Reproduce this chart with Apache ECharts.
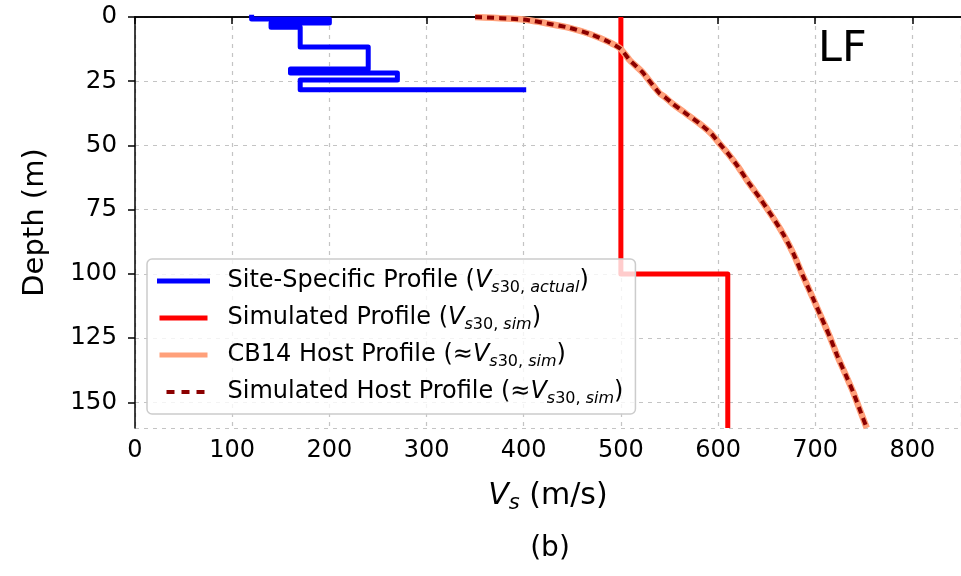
<!DOCTYPE html>
<html>
<head>
<meta charset="utf-8">
<script src="https://cdn.jsdelivr.net/npm/echarts@6/dist/echarts.min.js"></script>
<style>
  html, body { margin: 0; padding: 0; background: #fff; }
  #chart { width: 961px; height: 576px; }
</style>
</head>
<body>
<div id="chart"></div>
<script>
// Site-specific layered profile (Vs in m/s, depth in m), drawn as a step path
const siteVs    = [120, 120, 200, 200, 140, 140, 170, 170, 240, 240, 160, 160, 270, 270, 170, 170, 400];
const siteDepth = [0, 0.8, 0.8, 2.3, 2.3, 4, 4, 11.7, 11.7, 20.2, 20.2, 21.8, 21.8, 24.5, 24.5, 28.3, 28.3];

// Simulated two-layer profile
const simVs    = [500, 500, 610, 610];
const simDepth = [0, 100, 100, 160];

// CB14 host profile
const hostVs    = [350, 400, 427, 447, 468, 488, 500, 509, 522, 533, 540, 545, 553, 567, 581, 593, 602, 611, 620, 632, 643, 656, 667, 678, 687, 697, 706, 715, 723, 731, 739, 746, 753];
const hostDepth = [0, 1.0, 2.7, 4.2, 6.6, 9.8, 12.5, 16.8, 21.4, 26.6, 29.8, 31.1, 33.7, 37.6, 41.5, 45.4, 49.5, 53.5, 58, 64.8, 70.5, 77.8, 84.5, 92.5, 100.5, 108.9, 116.7, 124.5, 132.2, 139, 146, 153, 160];

// Simulated host profile (follows the CB14 host profile)
const simHostVs    = hostVs.slice();
const simHostDepth = hostDepth.slice();

// Legend entries: plain name, subscript pieces, whether prefixed by ≈
const seriesNames = ['Site-Specific Profile', 'Simulated Profile', 'CB14 Host Profile', 'Simulated Host Profile'];
const subscripts  = [['s', '30, ', 'actual'], ['s', '30, ', 'sim'], ['s', '30, ', 'sim'], ['s', '30, ', 'sim']];
const approxFlags = [false, false, true, true];

const xTicks = { min: 0, max: 850, interval: 100 };
const yTicks = { min: 0, max: 160, interval: 25 };

const FONT = 'DejaVu Sans';

function pairs(xs, ys) { return xs.map((x, i) => [x, ys[i]]); }

const richLegend = {
  v:  { fontFamily: FONT, fontSize: 24, fontStyle: 'italic', lineHeight: 30, color: '#000' },
  ap: { fontFamily: FONT, fontSize: 24, lineHeight: 30, color: '#000' },
  si: { fontFamily: FONT, fontSize: 16, fontStyle: 'italic', lineHeight: 16, verticalAlign: 'bottom', color: '#000' },
  sd: { fontFamily: FONT, fontSize: 16, lineHeight: 16, verticalAlign: 'bottom', color: '#000' }
};

function legendLabel(name) {
  const i = seriesNames.indexOf(name);
  const sub = subscripts[i];
  return name + ' (' + (approxFlags[i] ? '{ap|≈}' : '') + '{v|V}{si|' + sub[0] + '}{sd|' + sub[1] + '}{si|' + sub[2] + '})';
}

const chart = echarts.init(document.getElementById('chart'), null, { renderer: 'canvas' });

const axisLine = { show: true, lineStyle: { color: '#000', width: 1.5 } };
const splitLine = { show: true, lineStyle: { color: '#c4c4c4', width: 1.2, type: [4, 5] } };

const legendLine = [
  { width: 5, type: 'solid' },
  { width: 5, type: 'solid' },
  { width: 5, type: 'solid' },
  { width: 4, type: [8, 7], dashOffset: 8 }
];

chart.setOption({
  animation: false,
  backgroundColor: '#fff',
  grid: { left: 135, right: 0, top: 17, bottom: 148, containLabel: false },
  xAxis: [{
    type: 'value',
    position: 'bottom',
    min: xTicks.min, max: xTicks.max, interval: xTicks.interval,
    axisLine: axisLine,
    axisTick: { show: true, inside: false, length: 7, lineStyle: { color: '#000', width: 1.5 } },
    axisLabel: { showMaxLabel: false, margin: 11, fontFamily: FONT, fontSize: 24, color: '#000' },
    splitLine: splitLine,
    name: '{v|V}{s|s} (m/s)',
    nameLocation: 'middle',
    nameGap: 50,
    nameTextStyle: {
      fontFamily: FONT, fontSize: 30, color: '#000', lineHeight: 36,
      rich: {
        v: { fontFamily: FONT, fontSize: 30, fontStyle: 'italic', lineHeight: 36, color: '#000' },
        s: { fontFamily: FONT, fontSize: 21, fontStyle: 'italic', lineHeight: 22, verticalAlign: 'bottom', color: '#000' }
      }
    }
  }, {
    type: 'value',
    position: 'top',
    min: xTicks.min, max: xTicks.max, interval: xTicks.interval,
    axisLine: axisLine,
    axisTick: { show: false },
    axisLabel: { show: false },
    splitLine: { show: false }
  }],
  yAxis: {
    type: 'value',
    inverse: true,
    min: yTicks.min, max: yTicks.max, interval: yTicks.interval,
    axisLine: axisLine,
    axisTick: { show: true, inside: false, length: 7, lineStyle: { color: '#000', width: 1.5 } },
    axisLabel: { showMaxLabel: false, margin: 18, fontFamily: FONT, fontSize: 24.5, color: '#000' },
    splitLine: splitLine,
    name: 'Depth (m)',
    nameLocation: 'middle',
    nameRotate: 90,
    nameGap: 85,
    nameTextStyle: { fontFamily: FONT, fontSize: 29, color: '#000' }
  },
  legend: {
    orient: 'vertical',
    left: 147,
    top: 259,
    padding: [7, 12, 7, 10],
    itemGap: 7,
    itemWidth: 48,
    itemHeight: 14,
    backgroundColor: 'rgba(255,255,255,0.8)',
    borderColor: '#cccccc',
    borderWidth: 1.5,
    borderRadius: 5,
    data: seriesNames.map((n, i) => ({
      name: n,
      itemStyle: { opacity: 0 },
      lineStyle: legendLine[i]
    })),
    formatter: legendLabel,
    textStyle: {
      fontFamily: FONT, fontSize: 24, color: '#000', lineHeight: 30,
      padding: [0, 0, 0, 15],
      rich: richLegend
    }
  },
  graphic: [
    {
      type: 'text', left: 818, top: 28,
      style: { text: 'LF', fontFamily: FONT, fontSize: 43, fill: '#000' }
    },
    {
      type: 'text', x: 550, y: 549,
      style: { text: '(b)', fontFamily: FONT, fontSize: 28, fill: '#000', align: 'center', verticalAlign: 'middle' }
    }
  ],
  series: [
    {
      name: seriesNames[0], type: 'line', symbol: 'none', clip: true,
      data: pairs(siteVs, siteDepth),
      lineStyle: { color: '#0000ff', width: 5, join: 'round', cap: 'square' },
      itemStyle: { color: '#0000ff' }
    },
    {
      name: seriesNames[1], type: 'line', symbol: 'none', clip: true,
      data: pairs(simVs, simDepth),
      lineStyle: { color: '#ff0000', width: 5, join: 'round', cap: 'butt' },
      itemStyle: { color: '#ff0000' }
    },
    {
      name: seriesNames[2], type: 'line', symbol: 'none', clip: true, smooth: 0.2,
      data: pairs(hostVs, hostDepth),
      lineStyle: { color: '#ffa07a', width: 6.5, join: 'round' },
      itemStyle: { color: '#ffa07a' }
    },
    {
      name: seriesNames[3], type: 'line', symbol: 'none', clip: true, smooth: 0.2,
      data: pairs(simHostVs, simHostDepth),
      lineStyle: { color: '#8b0000', width: 4, type: [7, 5] },
      itemStyle: { color: '#8b0000' }
    }
  ]
});
</script>
</body>
</html>
